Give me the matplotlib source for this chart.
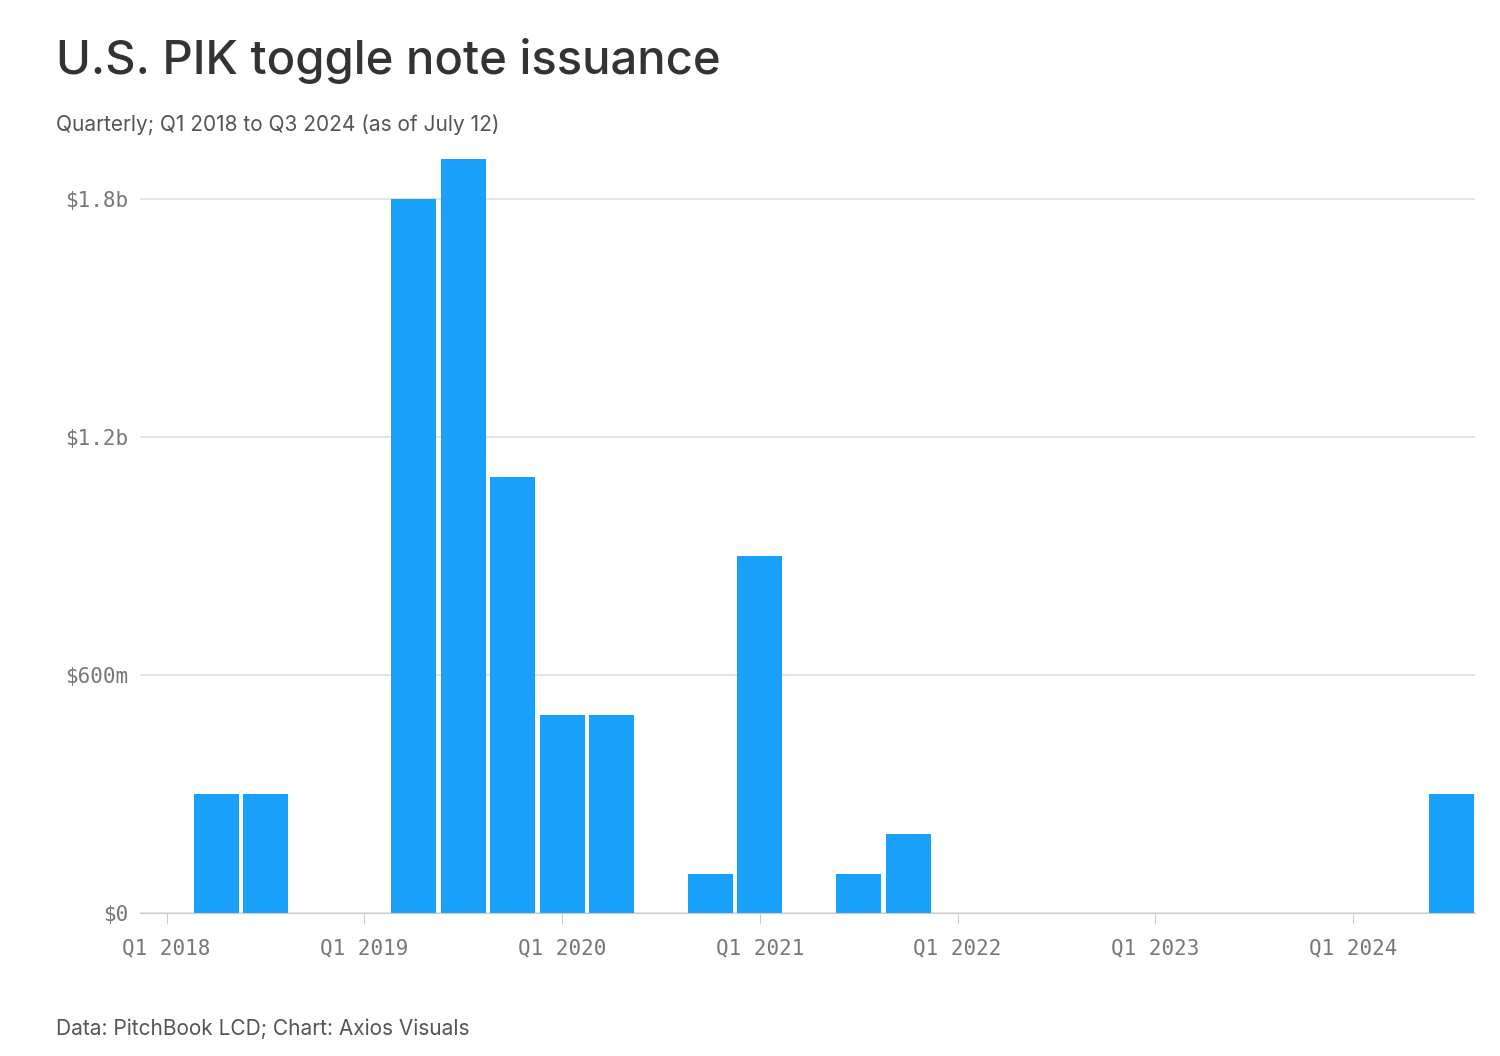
import matplotlib.pyplot as plt
from matplotlib.ticker import FuncFormatter

# quarterly issuance, $ millions; Q1 2018 .. Q2 2024 as drawn
values = [300, 300, 0, 0, 1800, 1900, 1100, 500, 500, 0, 100, 900,
          0, 100, 200, 0, 0, 0, 0, 0, 0, 0, 0, 0, 0, 300]
tick_pos = [-1, 3, 7, 11, 15, 19, 23]
tick_labels = ["Q1 2018", "Q1 2019", "Q1 2020", "Q1 2021", "Q1 2022", "Q1 2023", "Q1 2024"]
y_ticks = [0, 600, 1200, 1800]

fig = plt.figure(figsize=(15, 10.56), dpi=100)
ax = fig.add_axes([0.093, 0.135, 0.890, 0.733])

ax.bar(range(len(values)), values, width=0.91, color="#18a0fb", zorder=2)

ax.set_xlim(-1.55, 25.46)
ax.set_ylim(0, 1950)
ax.set_yticks(y_ticks)
ax.yaxis.set_major_formatter(FuncFormatter(
    lambda v, p: "$0" if v == 0 else (f"${v/1000:g}b" if v >= 1000 else f"${v:g}m")))
ax.set_xticks(tick_pos)
ax.set_xticklabels(tick_labels)
ax.grid(axis="y", color="#e0e0e0", lw=1.2, zorder=0)
for s in ["top", "right", "left"]:
    ax.spines[s].set_visible(False)
ax.spines["bottom"].set_color("#cccccc")
ax.tick_params(axis="y", length=0, pad=8, labelsize=15, labelcolor="#777777")
ax.tick_params(axis="x", length=8, color="#cccccc", pad=10, labelsize=15, labelcolor="#777777")
for t in ax.get_xticklabels() + ax.get_yticklabels():
    t.set_family("DejaVu Sans Mono")

fig.text(0.037, 0.930, "U.S. PIK toggle note issuance", fontsize=34, color="#333333",
         family="Inter", fontweight="medium")
fig.text(0.037, 0.876, "Quarterly; Q1 2018 to Q3 2024 (as of July 12)", fontsize=15,
         color="#555555", family="Inter")
fig.text(0.037, 0.020, "Data: PitchBook LCD; Chart: Axios Visuals", fontsize=15,
         color="#555555", family="Inter")

fig.savefig("out.png", dpi=100)
